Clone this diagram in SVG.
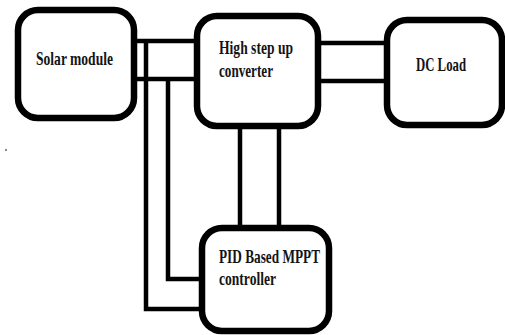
<svg xmlns="http://www.w3.org/2000/svg" width="505" height="335" viewBox="0 0 505 335">
  <style>
    .box { fill: #ffffff; stroke: #000000; stroke-width: 6.5; }
    .wire { fill: none; stroke: #000000; stroke-width: 4.5; stroke-linejoin: miter; }
    .label { font-family: "Liberation Serif", "Times New Roman", serif; font-weight: bold; font-size: 19px; fill: #141414; }
  </style>
  <rect width="505" height="335" fill="#ffffff"/>

  <!-- connectors -->
  <g id="connectors">
    <line class="wire" x1="136" y1="41" x2="196" y2="41"/>
    <line class="wire" x1="136" y1="79" x2="196" y2="79"/>
    <line class="wire" x1="319" y1="43" x2="386" y2="43"/>
    <line class="wire" x1="319" y1="81" x2="386" y2="81"/>
    <polyline class="wire" points="146,41 146,309 201,309"/>
    <polyline class="wire" points="168,79 168,279 201,279"/>
    <line class="wire" x1="240" y1="127" x2="240" y2="227"/>
    <line class="wire" x1="279" y1="127" x2="279" y2="227"/>
  </g>

  <g id="solar-module">
    <rect class="box" x="18" y="10" width="116" height="108" rx="20"/>
    <text class="label" x="36" y="65" textLength="77" lengthAdjust="spacingAndGlyphs">Solar module</text>
  </g>

  <g id="converter">
    <rect class="box" x="197" y="16" width="121" height="110" rx="20"/>
    <text class="label" x="219" y="54" textLength="74" lengthAdjust="spacingAndGlyphs">High step up</text>
    <text class="label" x="219" y="77" textLength="54" lengthAdjust="spacingAndGlyphs">converter</text>
  </g>

  <g id="dc-load">
    <rect class="box" x="387" y="20" width="115" height="105" rx="20"/>
    <text class="label" x="416" y="71" textLength="50" lengthAdjust="spacingAndGlyphs">DC Load</text>
  </g>

  <g id="mppt-controller">
    <rect class="box" x="202" y="228" width="127" height="103" rx="20"/>
    <text class="label" x="219" y="263" textLength="101" lengthAdjust="spacingAndGlyphs">PID Based MPPT</text>
    <text class="label" x="219" y="285" textLength="57" lengthAdjust="spacingAndGlyphs">controller</text>
  </g>

  <rect x="5" y="149" width="2" height="2" fill="#888888"/>
</svg>
